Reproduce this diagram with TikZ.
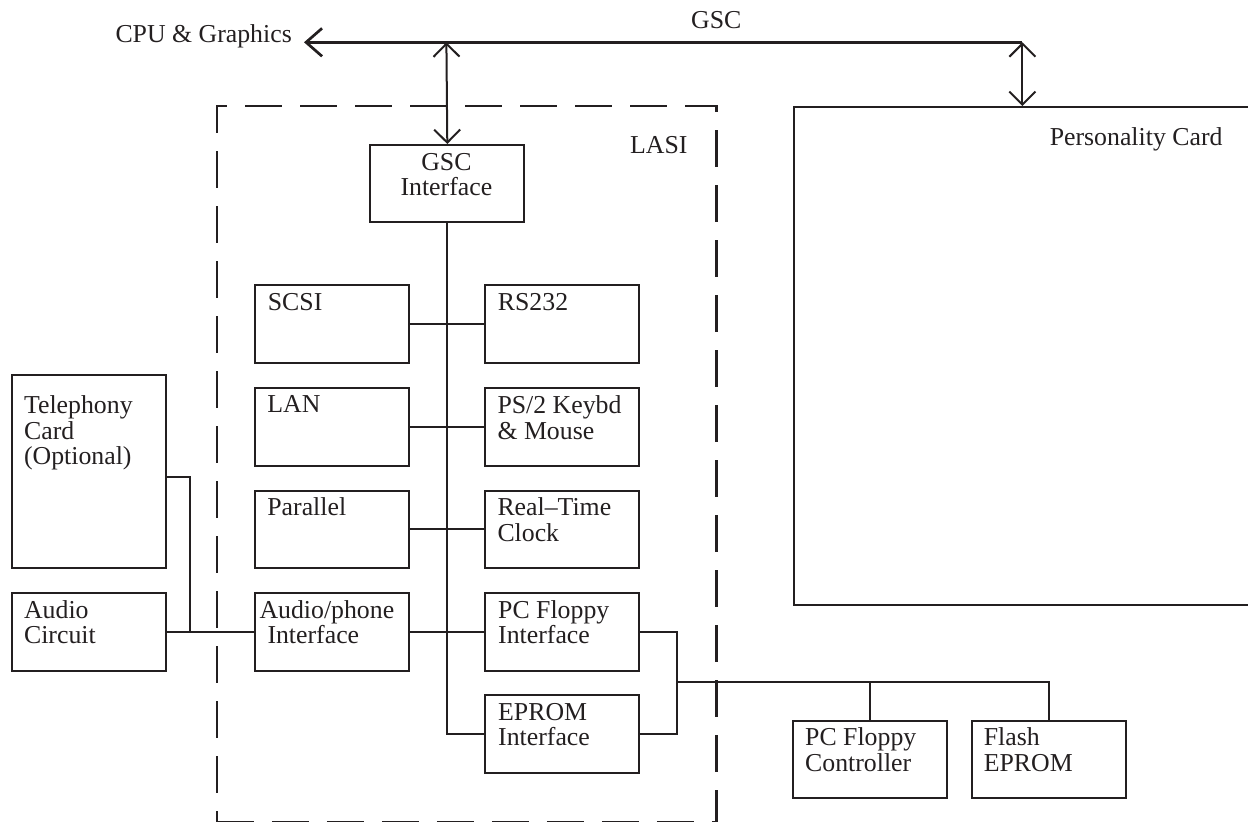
\documentclass[tikz,border=0pt]{standalone}
\usepackage{fontspec}
\setmainfont{Liberation Serif}
\usetikzlibrary{arrows.meta}
\definecolor{ink}{RGB}{35,31,32}
\tikzset{
  blk/.style={draw=ink, line width=2pt, rectangle, inner sep=0pt, anchor=north west,
              minimum width=154pt, minimum height=77.4pt},
  wire/.style={draw=ink, line width=2pt},
  txt/.style={inner sep=0pt, anchor=base west, text=ink, font=\fontsize{25.8pt}{26pt}\selectfont},
  ctxt/.style={txt, anchor=base},
  barb/.style={line width=2pt, draw=ink, {Straight Barb[length=13pt,width=26pt]}-{Straight Barb[length=13pt,width=26pt]}},
  lasistyle/.style={draw=ink, line width=2.2pt, dash pattern=on 37pt off 18pt, rectangle,
              inner sep=0pt, anchor=north west}
}
\begin{document}
\begin{tikzpicture}[x=1pt,y=-1pt]
\useasboundingbox (0,0) rectangle (1248,822);
\clip (0,0) rectangle (1248,822);

% LASI dashed group
\node[lasistyle, minimum width=499.6pt, minimum height=715.8pt] (lasibox) at (215.7,105) {};
\node[txt] (lasilbl) at (630,153.3) {LASI};

% Personality card (extends past the right edge)
\node[blk, minimum width=520pt, minimum height=498.3pt] (pcard) at (792.5,106) {};
\node[txt] (pcardlbl) at (1049.6,145) {Personality Card};

% bus
\coordinate (busL) at (304,42.3);
\coordinate (busR) at (1022.4,42.3);
\coordinate (busG) at (446.4,42.3);
\draw[draw=ink, line width=2.7pt, {Straight Barb[length=16pt,width=28pt]}-] (busL) -- (busR);
\node[txt, anchor=base east] (cpu) at (292,42.3) {CPU \& Graphics};
\node[txt] (gsclbl) at (691,28.3) {GSC};

% boxes
\node[blk] (gscif) at (369.3,144) {};
\node[ctxt] (gscif1) at (446.4,170) {GSC};
\node[ctxt] (gscif2) at (446.4,195) {Interface};

\node[blk] (scsi) at (254.2,284.3) {};
\node[txt] (scsi1) at (267.7,310.7) {SCSI};
\node[blk] (rs232) at (484.4,284.3) {};
\node[txt] (rs2321) at (497.7,310.7) {RS232};

\node[blk] (lan) at (254.2,387.3) {};
\node[txt] (lan1) at (267.2,412.7) {LAN};
\node[blk] (ps2) at (484.4,387.3) {};
\node[txt] (ps21) at (497.3,413.3) {PS/2 Keybd};
\node[txt] (ps22) at (497.3,439) {\& Mouse};

\node[blk] (par) at (254.2,489.7) {};
\node[txt] (par1) at (267.2,515) {Parallel};
\node[blk] (rtc) at (484.4,489.7) {};
\node[txt] (rtc1) at (497.3,515) {Real–Time};
\node[txt] (rtc2) at (497.3,541) {Clock};

\node[blk] (aph) at (254.2,592.3) {};
\node[txt] (aph1) at (259.3,618.3) {Audio/phone};
\node[txt] (aph2) at (267.3,643) {Interface};
\node[blk] (pcfi) at (484.4,592.3) {};
\node[txt] (pcfi1) at (498,618.3) {PC Floppy};
\node[txt] (pcfi2) at (498,643.3) {Interface};

\node[blk] (epif) at (484.4,694.3) {};
\node[txt] (epif1) at (498,720) {EPROM};
\node[txt] (epif2) at (498,745.7) {Interface};

\node[blk, minimum width=154.7pt, minimum height=192.4pt] (tel) at (10.6,374.3) {};
\node[txt] (tel1) at (23.9,413.3) {Telephony};
\node[txt] (tel2) at (23.9,439.3) {Card};
\node[txt] (tel3) at (23.9,464.5) {(Optional)};

\node[blk, minimum width=154.7pt] (aud) at (10.6,592.3) {};
\node[txt] (aud1) at (23.9,618.3) {Audio};
\node[txt] (aud2) at (23.9,643.3) {Circuit};

\node[blk, minimum width=153.8pt] (pfc) at (792.2,720) {};
\node[txt] (pfc1) at (805,745) {PC Floppy};
\node[txt] (pfc2) at (805,771) {Controller};

\node[blk, minimum width=154.2pt] (flash) at (971.2,720) {};
\node[txt] (flash1) at (983.6,745) {Flash};
\node[txt] (flash2) at (983.6,771) {EPROM};

% bus taps
\draw[barb] (busG) -- (gscif.north);
\draw[barb] (busR) -- (busR |- pcard.north);

% internal backbone
\draw[wire] (gscif.south) -- (gscif.south |- epif.west) -- (epif.west);
\draw[wire] (scsi.east) -- (rs232.west);
\draw[wire] (lan.east) -- (ps2.west);
\draw[wire] (par.east) -- (rtc.west);
\draw[wire] (aph.east) -- (pcfi.west);

% audio side
\coordinate (tj) at (190,477);
\draw[wire] (aud.east) -- (aph.west);
\draw[wire] (tel.east |- tj) -- (tj) -- (tj |- aud.east);

% floppy / eprom side
\coordinate (fr) at (677,682);
\draw[wire] (pcfi.east) -| (fr |- epif.east) -- (epif.east);
\draw[wire] (fr) -| (flash.north);
\draw[wire] (pfc.north) -- (pfc.north |- fr);
\end{tikzpicture}
\end{document}
